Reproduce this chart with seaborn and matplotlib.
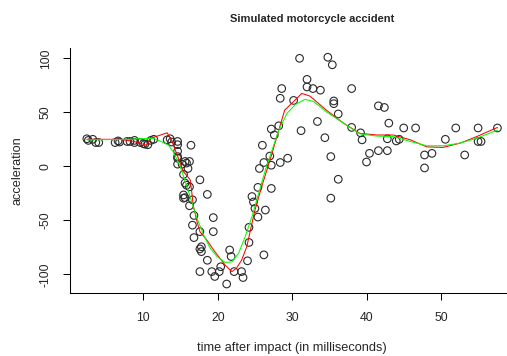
import numpy as np
import pandas as pd
import seaborn as sns
import matplotlib
matplotlib.use("Agg")
import matplotlib.pyplot as plt

# observed points (time in ms, acceleration)
times = [2.4, 2.6, 3.2, 3.6, 4.0, 6.2, 6.6, 6.8, 7.8, 8.2, 8.8, 8.8, 9.6, 10.0,
         10.2, 10.6, 11.0, 11.4, 13.2, 13.6, 13.8, 14.6, 14.6, 14.6, 14.6, 14.6,
         14.6, 15.2, 15.4, 15.4, 15.4, 15.6, 15.6, 15.6, 15.8, 15.8, 16.0, 16.2,
         16.2, 16.2, 16.4, 16.6, 16.6, 16.8, 16.8, 17.6, 17.6, 17.8, 17.6, 17.8,
         17.6, 18.6, 18.6, 19.4, 19.4, 19.2, 19.6, 20.4, 20.2, 21.6, 21.8, 21.2,
         22.2, 23.2, 23.4, 24.0, 24.2, 24.2, 24.6, 24.8, 25.0, 25.4, 25.4, 25.6,
         26.0, 26.2, 26.4, 26.2, 27.0, 27.2, 27.2, 27.2, 27.6, 28.2, 28.4, 28.4,
         28.6, 29.4, 30.2, 31.0, 31.2, 32.0, 32.0, 32.8, 33.4, 33.8, 34.4, 34.8,
         35.2, 35.2, 35.4, 35.6, 35.6, 36.2, 36.2, 38.0, 38.0, 39.2, 39.4, 40.0,
         40.4, 41.6, 41.6, 42.4, 42.8, 42.8, 43.0, 44.0, 44.4, 45.0, 46.6, 47.8,
         47.8, 48.8, 50.6, 52.0, 53.2, 55.0, 55.0, 55.4, 57.6]
accel = [25.5, 24, 25, 22, 22, 22, 23.5, 22.5, 23, 23, 22, 24, 22, 21,
         20.5, 20, 24, 25, 24.5, 25.5, 22.5, 23, 20, 14, 9, 7.5,
         2, 2, -7.5, -26.5, -29.5, 4.5, -15.5, -29, 3, -17.5, -2, 4.5,
         -19, -36.5, 19.5, -31, -54.5, -45.5, -66, -12.5, -60.5, -74.5, -76.5, -79,
         -97.5, -26, -87, -47.5, -60.5, -97.5, -102, -93, -97.5, -77.5, -83.5, -109,
         -97.5, -97.5, -103, -87.5, -70.5, -56.5, -28, -33, -39, -19.5, -47, -2,
         19.5, 3.5, -40.5, -82, 9.5, 1, -20.5, 34.5, 29, 37.5, 3.5, 63,
         72, 7.5, 61, 100, 33, 80.5, 73.5, 72, 41.5, 70.5, 26.5, 101,
         9, -29.5, 94, 60.5, 58, 48.5, -12, 72, 36, 31, 24.5, 4,
         12, 56, 14.5, 54.5, 14.5, 25.5, 40, 23.5, 25, 35.5, 35.5, 10.5,
         -1.5, 12, 25, 35.5, 10.5, 35.5, 23, 23, 35.5]

# red fit
red_x = [2.4, 6.9, 8.75, 10.4, 11.0, 13.2, 13.8, 14.7, 15.4, 16.3, 16.5, 16.7,
         17.2, 17.6, 18.5, 19.6, 21.0, 21.9, 22.5, 23.2, 23.9, 24.3, 25.0, 25.9,
         26.6, 27.3, 28.2, 29.0, 30.2, 31.3, 32.4, 34.6, 36.9, 39.1, 41.4, 43.6,
         45.9, 48.1, 50.3, 52.6, 54.8, 57.6]
red_y = [25, 25, 23, 19.5, 26, 31, 24, 7.5, -5, -12.5, -23.5, -36,
         -51, -60.5, -68, -79, -91.5, -97.5, -94.5, -87, -74.5, -62, -40.5, -19,
         -3.5, 12, 33.5, 52, 60, 67.5, 65, 52, 40, 30.5, 29, 29,
         24.5, 18, 17.5, 21.5, 27.5, 36]

# green fit
green_x = [2.4, 7.8, 11.3, 12.2, 13.4, 14.0, 14.9, 15.8, 16.5, 17.2, 18.1, 19.0,
           19.9, 21.0, 21.9, 22.8, 23.7, 24.6, 25.5, 26.4, 27.3, 28.2, 29.3, 30.4,
           31.7, 32.9, 34.6, 36.9, 39.1, 41.4, 43.6, 45.9, 48.1, 50.3, 52.6, 54.8,
           57.6]
green_y = [24.5, 25, 26, 23.5, 19.5, 13.5, 1, -17.5, -33, -48, -63.5, -76,
           -83.5, -89, -88.5, -80.5, -65, -46.5, -25, -3.5, 15, 33.5, 49, 57,
           62, 60, 50.5, 40, 30, 28, 27.5, 23, 19, 19, 21.5, 26,
           33.5]

pts = pd.DataFrame({"time": times, "accel": accel})
red = pd.DataFrame({"time": red_x, "accel": red_y})
green = pd.DataFrame({"time": green_x, "accel": green_y})

sns.set_theme(style="white")
plt.rcParams["font.family"] = ["Liberation Sans", "DejaVu Sans"]

fig = plt.figure(figsize=(5.07, 3.56), dpi=100)
ax = fig.add_axes([0.1389, 0.1767, 0.8746, 0.688])

sns.scatterplot(data=pts, x="time", y="accel", ax=ax, marker="o", s=30,
                facecolor="none", edgecolor="#2a2a2a", linewidth=0.8)
sns.lineplot(data=red, x="time", y="accel", ax=ax, color="#ff0000",
             linewidth=0.75, sort=False, estimator=None)
sns.lineplot(data=green, x="time", y="accel", ax=ax, color="#00ff00",
             linewidth=0.75, sort=False, estimator=None)

ax.margins(0.04)
ax.set_xticks([10, 20, 30, 40, 50])
ax.set_yticks([-100, -50, 0, 50, 100])
ax.set_yticklabels(["-100", "-50", "0", "50", "100"], rotation=90, va="center")

ax.tick_params(axis="both", direction="out", length=4.8, width=0.75,
               color="black", labelsize=8.8, pad=8.5, bottom=True, left=True)

for side in ["top", "right"]:
    ax.spines[side].set_visible(False)
for side in ["left", "bottom"]:
    ax.spines[side].set_color("black")
    ax.spines[side].set_linewidth(0.75)

ax.set_xlabel("time after impact (in milliseconds)", fontsize=9.2, labelpad=13.5)
ax.set_ylabel("acceleration", fontsize=9.2, labelpad=12)
fig.text(0.615, 0.946, "Simulated motorcycle accident", ha="center",
         va="center", fontsize=8, fontweight="bold")

fig.savefig("out.png", dpi=100)
